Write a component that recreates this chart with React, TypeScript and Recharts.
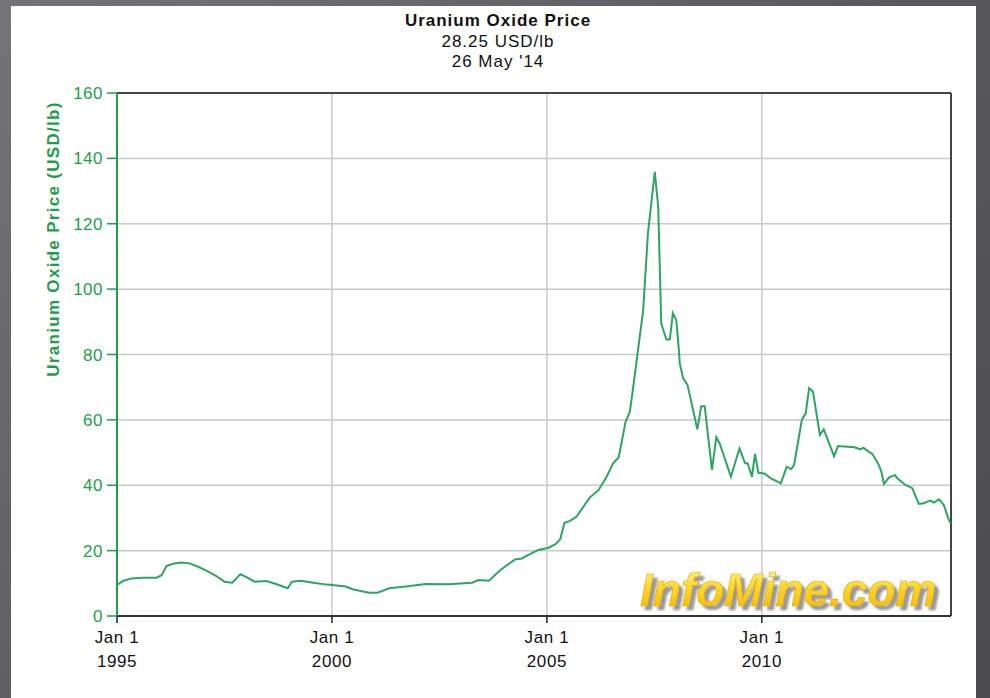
import React from "react";
import {
  CartesianGrid,
  Label,
  Line,
  LineChart,
  ReferenceLine,
  XAxis,
  YAxis,
} from "recharts";

// decimal years, with price in USD/lb
const dates = [
  1995.0, 1995.15, 1995.34, 1995.6, 1995.92, 1996.04, 1996.15, 1996.3, 1996.5, 1996.69,
  1996.9, 1997.08, 1997.3, 1997.5, 1997.68, 1997.87, 1998.0, 1998.2, 1998.47, 1998.7,
  1998.97, 1999.07, 1999.28, 1999.6, 1999.9, 2000.0, 2000.32, 2000.48, 2000.86, 2001.06,
  2001.33, 2001.72, 2002.18, 2002.72, 2003.26, 2003.41, 2003.65, 2003.92, 2004.26, 2004.42,
  2004.57, 2004.8, 2005.04, 2005.2, 2005.31, 2005.41, 2005.54, 2005.69, 2006.0, 2006.2,
  2006.39, 2006.54, 2006.67, 2006.83, 2006.93, 2007.03, 2007.12, 2007.24, 2007.35, 2007.51,
  2007.59, 2007.66, 2007.78, 2007.86, 2007.93, 2008.01, 2008.07, 2008.09, 2008.17, 2008.27,
  2008.5, 2008.59, 2008.67, 2008.84, 2008.94, 2009.02, 2009.28, 2009.48, 2009.61, 2009.67,
  2009.77, 2009.84, 2009.92, 2010.06, 2010.21, 2010.41, 2010.44, 2010.58, 2010.68, 2010.75,
  2010.93, 2011.02, 2011.1, 2011.19, 2011.35, 2011.44, 2011.68, 2011.77, 2012.15, 2012.3,
  2012.36, 2012.45, 2012.57, 2012.72, 2012.78, 2012.84, 2012.96, 2013.1, 2013.15, 2013.34,
  2013.5, 2013.65, 2013.77, 2013.85, 2013.93, 2014.0, 2014.12, 2014.23, 2014.35, 2014.4,
];

const prices = [
  9.5, 10.8, 11.5, 11.7, 11.7, 12.5, 15.3, 16.0, 16.4, 16.1,
  15.0, 13.9, 12.3, 10.5, 10.2, 12.8, 12.0, 10.5, 10.7, 9.8,
  8.5, 10.5, 10.8, 10.1, 9.6, 9.5, 9.0, 8.2, 7.1, 7.1,
  8.5, 9.0, 9.8, 9.7, 10.2, 11.0, 10.8, 14.1, 17.3, 17.6,
  18.7, 20.2, 20.9, 22.0, 23.5, 28.5, 29.1, 30.4, 36.3, 38.5,
  42.6, 46.7, 48.5, 59.4, 62.5, 72.2, 81.4, 93.6, 117, 135.9,
  125, 89.5, 84.6, 84.6, 92.6, 90.5, 81.4, 77.3, 72.7, 70.7,
  57.1, 64.2, 64.2, 44.7, 54.7, 52.8, 42.6, 51.3, 46.7, 46.7,
  42.6, 49.6, 43.8, 43.6, 42.1, 40.8, 40.6, 45.7, 44.9, 46.2,
  60.0, 62.0, 69.7, 68.6, 55.4, 57.1, 48.9, 52.0, 51.6, 51.0,
  51.5, 50.6, 49.6, 46.2, 44.1, 40.4, 42.4, 43.1, 42.1, 40.1,
  39.1, 34.3, 34.5, 35.0, 35.3, 34.7, 35.7, 34.0, 29.4, 28.25,
];

const xTicks = [1995, 2000, 2005, 2010];
const yTicks = [0, 20, 40, 60, 80, 100, 120, 140, 160];
const xEnd = 2014.4;

const titleLines = ["Uranium Oxide Price", "28.25 USD/lb", "26 May '14"];

const data = dates.map((t, i) => ({ t, price: prices[i] }));

const GREEN = "#1f9d4c";
const LINE = "#2ea463";
const FONT = "'Liberation Sans', Arial, sans-serif";

function DateTick(props: any) {
  const { x, y, payload } = props;
  return (
    <g>
      <text x={x} y={y} dy={18} textAnchor="middle" fill="#111" fontSize={17} letterSpacing={0.6}>
        Jan 1
      </text>
      <text x={x} y={y} dy={42} textAnchor="middle" fill="#111" fontSize={17} letterSpacing={0.6}>
        {payload.value}
      </text>
    </g>
  );
}

export default function App() {
  return (
    <div
      style={{
        position: "absolute",
        left: 0,
        top: 0,
        width: 990,
        height: 698,
        background: "linear-gradient(135deg, #737378 0%, #58585d 55%, #4a4a4f 100%)",
        fontFamily: FONT,
        overflow: "hidden",
      }}
    >
      <div
        style={{
          position: "absolute",
          left: 11,
          top: 6,
          width: 965,
          height: 692,
          background: "#fff",
        }}
      />
      <div style={{ position: "absolute", left: 0, top: 0 }}>
        <LineChart
          width={990}
          height={698}
          data={data}
          margin={{ top: 93, right: 39, bottom: 32, left: 57 }}
          style={{ fontFamily: FONT }}
        >
          <CartesianGrid stroke="#c9c9c9" strokeWidth={1.5} />
          <XAxis
            dataKey="t"
            type="number"
            domain={[1995, xEnd]}
            ticks={xTicks}
            height={50}
            tickSize={7}
            tickMargin={2}
            axisLine={{ stroke: "#333", strokeWidth: 2 }}
            tickLine={{ stroke: "#222", strokeWidth: 1.5 }}
            tick={<DateTick />}
            interval={0}
            allowDataOverflow
          />
          <YAxis
            type="number"
            domain={[0, 160]}
            ticks={yTicks}
            width={60}
            tickSize={10}
            tickMargin={4}
            interval={0}
            axisLine={{ stroke: GREEN, strokeWidth: 2 }}
            tickLine={{ stroke: GREEN, strokeWidth: 1.5 }}
            tick={{ fill: GREEN, fontSize: 17, letterSpacing: 0.5 }}
          >
            <Label
              content={() => (
                <text
                  x={59}
                  y={239}
                  transform="rotate(-90 59 239)"
                  textAnchor="middle"
                  fill={GREEN}
                  fontSize={17}
                  fontWeight="bold"
                  letterSpacing={1.3}
                >
                  Uranium Oxide Price (USD/lb)
                </text>
              )}
            />
          </YAxis>
          <ReferenceLine y={160} stroke="#444" strokeWidth={2} />
          <ReferenceLine x={xEnd} stroke="#444" strokeWidth={2} />
          <Line
            type="linear"
            dataKey="price"
            stroke={LINE}
            strokeWidth={2}
            dot={false}
            isAnimationActive={false}
          />
        </LineChart>
      </div>
      <svg
        width={990}
        height={698}
        style={{ position: "absolute", left: 0, top: 0, pointerEvents: "none" }}
      >
        <defs>
          <linearGradient id="wm" x1="0" y1="0" x2="0" y2="1">
            <stop offset="0%" stopColor="#fff59a" />
            <stop offset="45%" stopColor="#ffd82a" />
            <stop offset="100%" stopColor="#f2b000" />
          </linearGradient>
          <filter id="wmShadow" x="-5%" y="-20%" width="115%" height="150%">
            <feDropShadow dx={4} dy={4} stdDeviation={1.2} floodColor="#777" floodOpacity={0.75} />
          </filter>
        </defs>
        <text x={498} y={26} textAnchor="middle" fontSize={17} fontWeight="bold" letterSpacing={1} fill="#111">
          {titleLines[0]}
        </text>
        <text x={498} y={47} textAnchor="middle" fontSize={17} letterSpacing={1} fill="#111">
          {titleLines[1]}
        </text>
        <text x={498} y={67} textAnchor="middle" fontSize={17} letterSpacing={1} fill="#111">
          {titleLines[2]}
        </text>
        <text
          x={640}
          y={606}
          fontSize={46}
          fontWeight="bold"
          fontStyle="italic"
          fill="url(#wm)"
          stroke="#e0a800"
          strokeWidth={0.6}
          filter="url(#wmShadow)"
        >
          InfoMine.com
        </text>
      </svg>
    </div>
  );
}
